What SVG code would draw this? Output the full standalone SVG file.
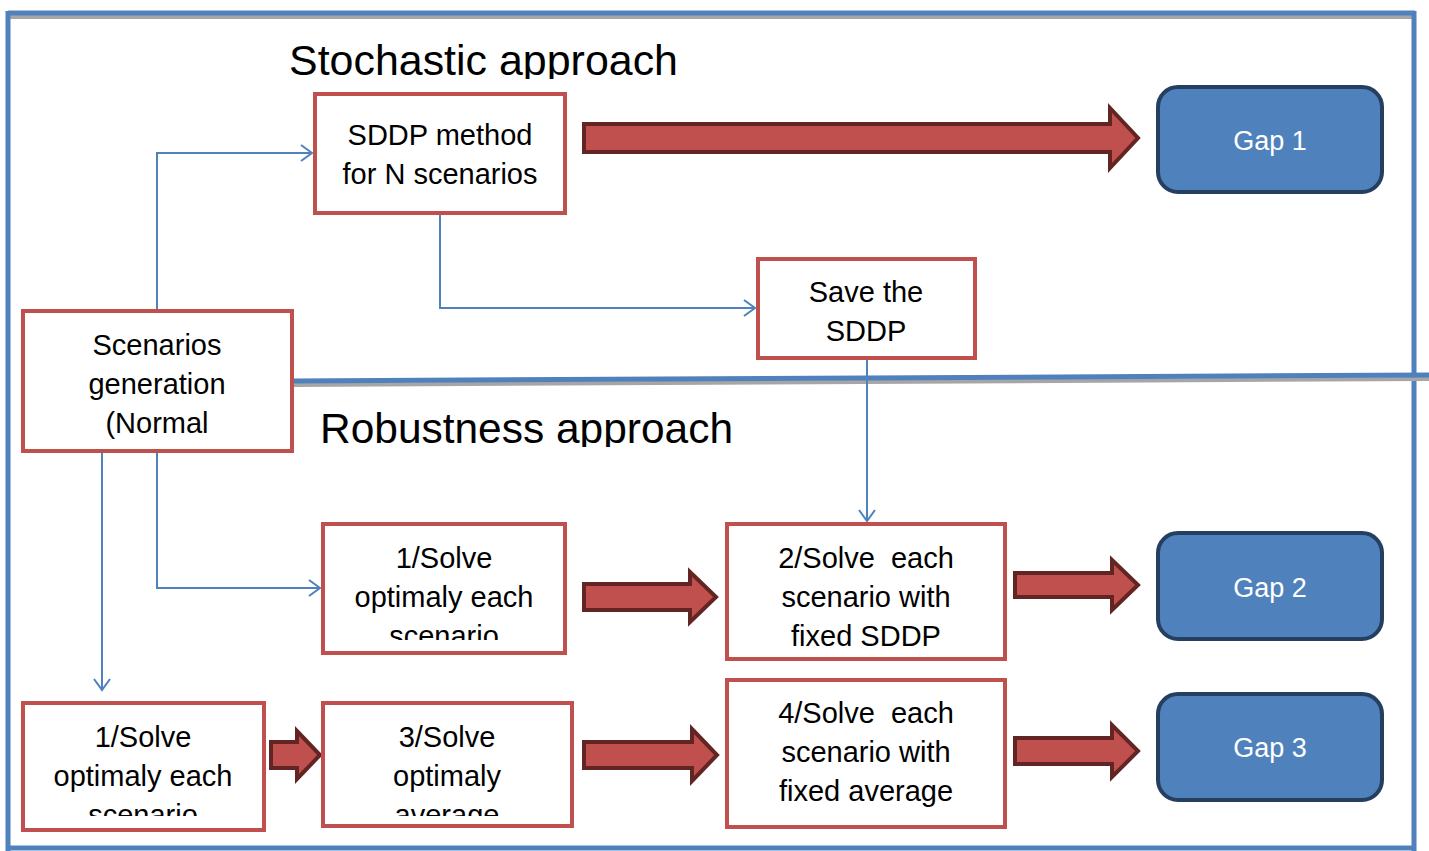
<svg xmlns="http://www.w3.org/2000/svg" width="1429" height="851" viewBox="0 0 1429 851">
<style>
.box{fill:#fff;stroke:#C0504D;stroke-width:4}
.gap{fill:#4F81BD;stroke:#243F60;stroke-width:4}
.t{font-family:"Liberation Sans",Arial,sans-serif;font-size:29px;fill:#000;text-anchor:middle}
.gt{font-family:"Liberation Sans",Arial,sans-serif;font-size:27px;fill:#fff;text-anchor:middle}
.title{font-family:"Liberation Sans",Arial,sans-serif;font-size:43px;fill:#000}
.conn{fill:none;stroke:#4F81BD;stroke-width:2}
.big{fill:#C0504D;stroke:#632523;stroke-width:4;stroke-linejoin:miter}
.frame{stroke:#4F81BD;stroke-width:5;fill:none}
.shadow{stroke:#A6A6A6;stroke-width:4;fill:none}
</style>
<defs>
<marker id="open" markerUnits="userSpaceOnUse" markerWidth="14" markerHeight="20" refX="12" refY="10" orient="auto">
<path d="M1,2 L12,10 L1,18" fill="none" stroke="#4F81BD" stroke-width="2"/>
</marker>
<clipPath id="c1"><rect x="0" y="0" width="1429" height="79"/></clipPath>
<clipPath id="c2"><rect x="0" y="390" width="1429" height="57"/></clipPath>
<clipPath id="c3"><rect x="323" y="524" width="242" height="116"/></clipPath>
<clipPath id="c4"><rect x="23" y="703" width="241" height="113"/></clipPath>
<clipPath id="c5"><rect x="323" y="703" width="249" height="113"/></clipPath>
</defs>
<rect width="1429" height="851" fill="#fff"/>
<g id="frame">
<line class="shadow" x1="10" y1="17" x2="1413" y2="17"/>
<line class="frame" x1="8" y1="13" x2="1415" y2="13"/>
<line class="frame" x1="8" y1="11" x2="8" y2="851"/>
<line class="frame" x1="1414" y1="11" x2="1414" y2="851"/>
<line class="frame" x1="8" y1="848" x2="1416" y2="848"/>
<line class="shadow" x1="293" y1="385" x2="1429" y2="379"/>
<line class="frame" x1="293" y1="381" x2="1429" y2="375"/>
</g>
<g id="titles">
<text class="title" x="289" y="75" textLength="389" lengthAdjust="spacingAndGlyphs" clip-path="url(#c1)">Stochastic approach</text>
<text class="title" x="320" y="443" textLength="413" lengthAdjust="spacingAndGlyphs" clip-path="url(#c2)">Robustness approach</text>
</g>
<g id="connectors">
<polyline class="conn" points="157,311 157,153 312,153" marker-end="url(#open)"/>
<polyline class="conn" points="440,213 440,308 755,308" marker-end="url(#open)"/>
<polyline class="conn" points="867,358 867,521" marker-end="url(#open)"/>
<polyline class="conn" points="157,451 157,588 320,588" marker-end="url(#open)"/>
<polyline class="conn" points="102,451 102,690" marker-end="url(#open)"/>
<path class="big" d="M584,124 L1110,124 L1110,108 L1138,138 L1110,168 L1110,152 L584,152 Z"/>
<path class="big" d="M584,584 L690,584 L690,572 L716,597 L690,622 L690,610 L584,610 Z"/>
<path class="big" d="M1015,573 L1112,573 L1112,560 L1138,585 L1112,610 L1112,597 L1015,597 Z"/>
<path class="big" d="M271,742 L297,742 L297,731 L320,755 L297,779 L297,768 L271,768 Z"/>
<path class="big" d="M584,742 L692,742 L692,729 L717,755 L692,781 L692,768 L584,768 Z"/>
<path class="big" d="M1015,738 L1112,738 L1112,725 L1138,751 L1112,777 L1112,764 L1015,764 Z"/>
</g>
<g id="sddp">
<rect class="box" x="315" y="94" width="250" height="119"/>
<text class="t" x="440" y="145">SDDP method</text>
<text class="t" x="440" y="184">for N scenarios</text>
</g>
<g id="save">
<rect class="box" x="758" y="259" width="217" height="99"/>
<text class="t" x="866" y="302">Save the</text>
<text class="t" x="866" y="341">SDDP</text>
</g>
<g id="scen">
<rect class="box" x="23" y="311" width="269" height="140"/>
<text class="t" x="157" y="355">Scenarios</text>
<text class="t" x="157" y="394">generation</text>
<text class="t" x="157" y="433">(Normal</text>
</g>
<g id="solve1a">
<rect class="box" x="323" y="524" width="242" height="129"/>
<g clip-path="url(#c3)">
<text class="t" x="444" y="568">1/Solve</text>
<text class="t" x="444" y="607">optimaly each</text>
<text class="t" x="444" y="646">scenario</text>
</g>
</g>
<g id="solve2">
<rect class="box" x="727" y="524" width="278" height="135"/>
<text class="t" x="866" y="568" xml:space="preserve">2/Solve  each</text>
<text class="t" x="866" y="607">scenario with</text>
<text class="t" x="866" y="646">fixed SDDP</text>
</g>
<g id="solve1b">
<rect class="box" x="23" y="703" width="241" height="127"/>
<g clip-path="url(#c4)">
<text class="t" x="143" y="747">1/Solve</text>
<text class="t" x="143" y="786">optimaly each</text>
<text class="t" x="143" y="825">scenario</text>
</g>
</g>
<g id="solve3">
<rect class="box" x="323" y="703" width="249" height="123"/>
<g clip-path="url(#c5)">
<text class="t" x="447" y="747">3/Solve</text>
<text class="t" x="447" y="786">optimaly</text>
<text class="t" x="447" y="825">average</text>
</g>
</g>
<g id="solve4">
<rect class="box" x="727" y="680" width="278" height="147"/>
<text class="t" x="866" y="723" xml:space="preserve">4/Solve  each</text>
<text class="t" x="866" y="762">scenario with</text>
<text class="t" x="866" y="801">fixed average</text>
</g>
<g id="gap1">
<rect class="gap" x="1158" y="87" width="224" height="105" rx="20"/>
<text class="gt" x="1270" y="150">Gap 1</text>
</g>
<g id="gap2">
<rect class="gap" x="1158" y="533" width="224" height="106" rx="20"/>
<text class="gt" x="1270" y="597">Gap 2</text>
</g>
<g id="gap3">
<rect class="gap" x="1158" y="694" width="224" height="106" rx="20"/>
<text class="gt" x="1270" y="757">Gap 3</text>
</g>
</svg>
